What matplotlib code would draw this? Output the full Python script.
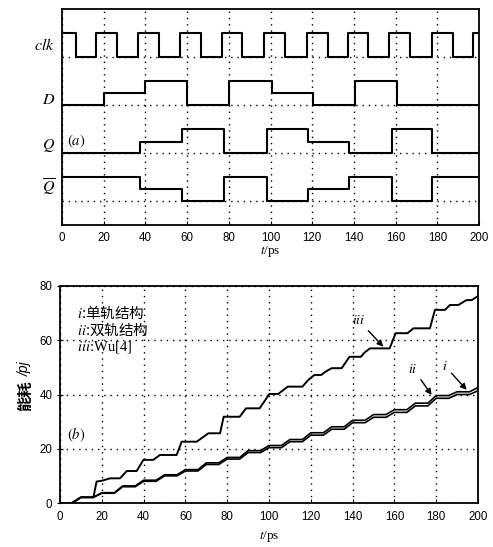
import numpy as np
import matplotlib
matplotlib.use("Agg")
import matplotlib.pyplot as plt
import matplotlib.transforms as mtransforms

plt.rcParams['font.family'] = ['Liberation Sans', 'Noto Sans CJK SC']
plt.rcParams['mathtext.fontset'] = 'stix'

# ---- panel (a): logic waveforms (time of each level change, level 0..1)
clk_t = [0, 6.5, 16.5, 26.5, 36.5, 46.5, 56.5, 66.5, 76.5, 86.5, 97, 107,
         117.5, 127.5, 137, 147, 157, 167, 177.5, 187.5, 197, 200]
clk_v = [1, 0, 1, 0, 1, 0, 1, 0, 1, 0, 1, 0, 1, 0, 1, 0, 1, 0, 1, 0, 1, 1]
d_t = [0, 20, 40, 60, 80, 100.5, 120.5, 140.5, 160.5, 200]
d_v = [0, 0.5, 1, 0, 1, 0.5, 0, 1, 0, 0]
q_t = [0, 37.5, 57.5, 77.5, 98.5, 118, 137.5, 158.5, 177.5, 200]
q_v = [0, 0.45, 1, 0, 1, 0.45, 0, 1, 0, 0]
qb_t = [0, 37.5, 57.5, 77.5, 98.5, 118, 137.5, 158.5, 177.5, 200]
qb_v = [1, 0.5, 0, 1, 0, 0.5, 1, 0, 1, 1]
signal_names = [r'$clk$', r'$D$', r'$Q$', r'$\overline{Q}$']
signal_offsets = [6, 4, 2, 0]

# ---- panel (b): accumulated energy (pJ) vs time (ps)
t_iii = [0, 5.6, 10, 16, 17.5, 20, 24, 28.7, 32, 36.7, 39.9, 44.6, 47.8, 55.8,
         58.2, 65.4, 71, 76.6, 78.3, 86, 89, 95.5, 100.2, 104.4, 109, 116,
         118.7, 121.7, 125, 127, 130, 134.8, 138.5, 144, 145.6, 148.3, 157.7,
         160.6, 166.3, 169.1, 177, 179.4, 184.2, 186.6, 190.6, 194.5, 197, 200]
e_iii = [0, 0, 2.1, 2.1, 7.9, 8.2, 9.1, 9.1, 11.8, 11.8, 15.9, 15.9, 17.7, 17.7,
         22.6, 22.6, 25.7, 25.7, 31.8, 31.8, 34.9, 34.9, 40.2, 40.2, 42.9, 42.9,
         45.3, 47.2, 47.2, 48.4, 49.7, 49.7, 53.9, 53.9, 55.4, 57, 57,
         62.6, 62.6, 64.4, 64.4, 71.2, 71.2, 73, 73, 74.8, 74.8, 76.3]
t_lo = [0, 6, 10, 16, 20, 26, 30, 36, 40, 46, 50, 56, 60, 66, 70, 76, 80, 86,
        90, 96, 100, 106, 110, 116, 120, 126, 130, 136, 140, 146, 150, 156,
        160, 166, 170, 176, 180, 186, 190, 196, 200]
e_i = [0, 0, 2.1, 2.1, 3.6, 3.6, 6.0, 6.0, 8.0, 8.0, 10.0, 10.0, 11.8, 11.8,
       14.2, 14.2, 16.2, 16.2, 18.6, 18.6, 20.4, 20.4, 22.6, 22.6, 25.0, 25.0,
       27.2, 27.2, 29.6, 29.6, 31.6, 31.6, 33.4, 33.4, 35.8, 35.8, 38.6, 38.6,
       40.0, 40.0, 41.4]
e_ii = [0, 0, 2.1, 2.1, 3.8, 3.8, 6.3, 6.3, 8.4, 8.4, 10.4, 10.4, 12.3, 12.3,
        14.8, 14.8, 16.8, 16.8, 19.3, 19.3, 21.2, 21.2, 23.4, 23.4, 25.9, 25.9,
        28.1, 28.1, 30.5, 30.5, 32.6, 32.6, 34.4, 34.4, 36.8, 36.8, 39.6, 39.6,
        41.0, 41.0, 42.6]

W, H = 493, 547
fig = plt.figure(figsize=(W / 100, H / 100), dpi=100)
ax1 = fig.add_axes([62 / W, 1 - 225 / H, (479 - 62) / W, (225 - 9) / H])
ax2 = fig.add_axes([60 / W, 1 - 503 / H, (478 - 60) / W, (503 - 286) / H])

dots = (0, (1, 3.5))
xt = np.arange(0, 201, 20)

# top panel
waves = [(clk_t, clk_v), (d_t, d_v), (q_t, q_v), (qb_t, qb_v)]
for (t, v), off in zip(waves, signal_offsets):
    ax1.step(t, np.array(v) + off, where='post', color='k', lw=1.5)
ax1.set_xlim(0, 200)
ax1.set_ylim(-1, 8)
ax1.set_xticks(xt)
ax1.set_yticks(signal_offsets)
ax1.set_yticklabels([])
ax1.tick_params(axis='y', length=0)
ax1.tick_params(axis='x', direction='in', length=3, labelsize=8.3, pad=5)
ax1.grid(True, color='k', ls=dots, lw=1)
ax1.set_xlabel(r'$t$/ps', family='Liberation Serif', fontsize=9.5, labelpad=0)
label_y = [6.5, 4.25, 2.33, 0.56]
for name, y in zip(signal_names, label_y):
    ax1.annotate(name, xy=(0, y), xycoords=('axes fraction', 'data'),
                 xytext=(-5, 0), textcoords='offset points',
                 ha='right', va='center', fontsize=11.5)
ax1.text(2.2, 2.47, r'$(a)$', fontsize=10.5, ha='left', va='center')

# bottom panel
ax2.plot(t_iii, e_iii, color='k', lw=1.4)
ax2.plot(t_lo, e_ii, color='k', lw=1.2)
ax2.plot(t_lo, e_i, color='k', lw=1.2)
ax2.set_xlim(0, 200)
ax2.set_ylim(0, 80)
ax2.set_xticks(xt)
ax2.set_yticks([0, 20, 40, 60, 80])
ax2.tick_params(axis='x', direction='in', length=3, labelsize=8.3, pad=6)
ax2.tick_params(axis='y', direction='inout', length=5, labelsize=8.3, pad=3)
ax2.grid(True, color='k', ls=dots, lw=1)
ax2.set_xlabel(r'$t$/ps', family='Liberation Serif', fontsize=9.5, labelpad=4)

tr = mtransforms.blended_transform_factory(ax2.transAxes, ax2.transData)
ax2.text(-0.084, 39.5, '能耗', rotation=90, transform=tr, ha='center',
         va='center', family='Noto Sans CJK SC', weight='bold', fontsize=11)
ax2.text(-0.084, 49.5, '/pj', rotation=90, transform=tr, ha='center',
         va='center', family='Liberation Sans', style='italic', fontsize=10)

legend_lines = [(r'$i$:单轨结构', 'Noto Sans CJK SC'),
                (r'$ii$:双轨结构', 'Noto Sans CJK SC'),
                (r'$iii$:Wu[4]', 'Liberation Serif')]
for k, (s, fam) in enumerate(legend_lines):
    ax2.text(0.04, 0.88 - k * 0.08, s, transform=ax2.transAxes, family=fam,
             fontsize=10.5, ha='left', va='center')
ax2.text(3.3, 25, r'$(b)$', fontsize=10.5, ha='left', va='center')

arrow = dict(arrowstyle='-|>', color='k', lw=1, mutation_scale=9,
             shrinkA=1, shrinkB=0)
ax2.annotate(r'$iii$', xy=(154.7, 57.6), xytext=(142.7, 67.5),
             arrowprops=arrow, ha='center', va='center', fontsize=10)
ax2.annotate(r'$ii$', xy=(177.8, 39.8), xytext=(169, 49.5),
             arrowprops=arrow, ha='center', va='center', fontsize=10)
ax2.annotate(r'$i$', xy=(194.6, 41.7), xytext=(184.2, 50.5),
             arrowprops=arrow, ha='center', va='center', fontsize=10)

for ax in (ax1, ax2):
    for sp in ax.spines.values():
        sp.set_linewidth(1.3)

fig.savefig('out.png', dpi=100)
